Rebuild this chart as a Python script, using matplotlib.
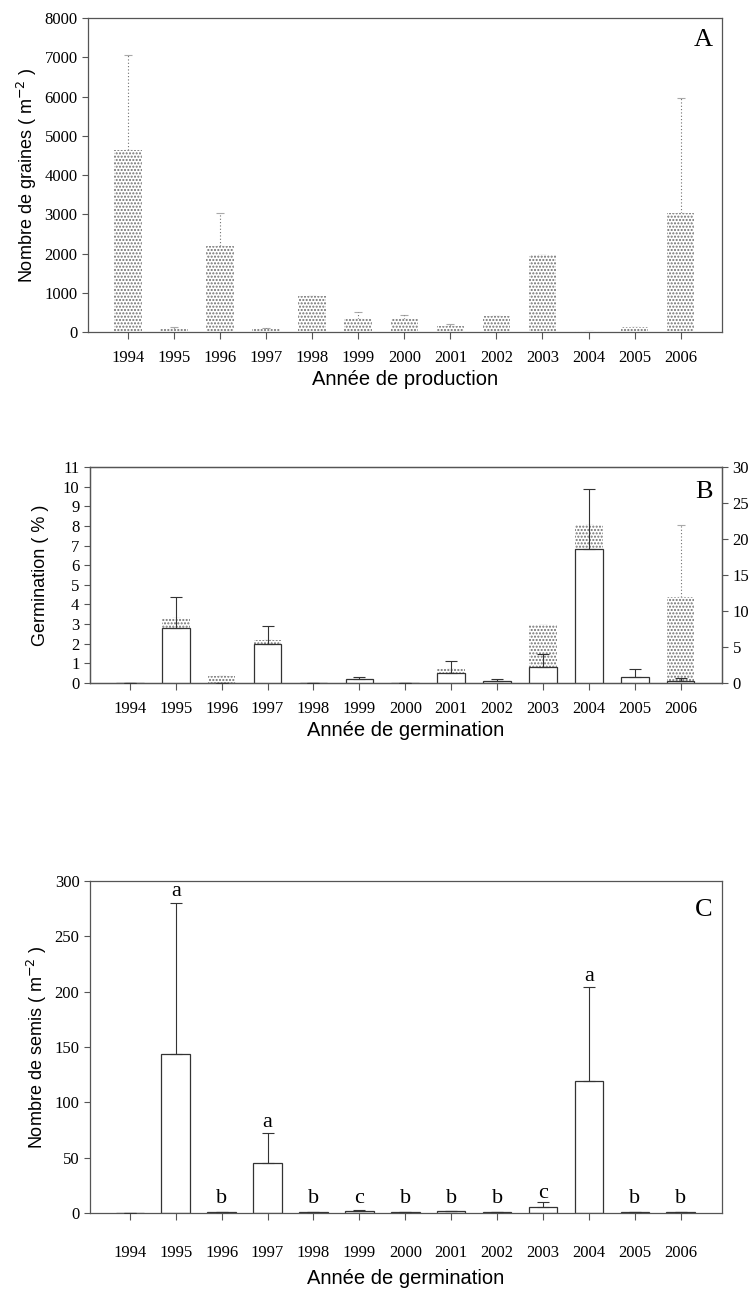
"""
Production de graines, germination et semis (panneaux A, B, C)
"""

import numpy as np
import matplotlib.pyplot as plt

years = [1994, 1995, 1996, 1997, 1998, 1999, 2000, 2001, 2002, 2003, 2004, 2005, 2006]

# A : nombre de graines (m-2), moyenne et erreur (partie haute)
graines = [4650, 80, 2200, 70, 930, 330, 330, 150, 400, 1950, 15, 130, 3020]
graines_err = [2400, 40, 820, 40, 0, 170, 100, 60, 0, 0, 0, 0, 2950]

# B : germination (%) axe gauche (barres blanches) et axe droit (barres pointillées)
germ = [0, 2.8, 0, 2.0, 0, 0.2, 0, 0.5, 0.1, 0.8, 6.8, 0.3, 0.1]
germ_err = [0, 1.6, 0, 0.9, 0, 0.1, 0, 0.6, 0.1, 0.7, 3.1, 0.4, 0.15]
germ2 = [0, 9, 1, 6, 0, 0, 0, 2, 0, 8, 22, 0, 12]
germ2_err = [0, 0, 0, 0, 0, 0, 0, 0, 0, 0, 0, 0, 10]

# C : nombre de semis (m-2) et lettres de groupes
semis = [0, 144, 0.5, 45, 0.5, 2, 0.5, 1.5, 0.5, 5, 119, 0.5, 0.5]
semis_err = [0, 136, 0, 27, 0, 1, 0, 0.5, 0, 5, 85, 0, 0]
lettres = ['', 'a', 'b', 'a', 'b', 'c', 'b', 'b', 'b', 'c', 'a', 'b', 'b']
lettres_y = [0, 286, 9, 78, 9, 9, 9, 9, 9, 14, 210, 9, 9]

SERIF = 'Liberation Serif'
SANS = 'Liberation Sans'
GRIS = '#555555'
POINTS = '#707070'

plt.rcParams['hatch.linewidth'] = 1.0
plt.rcParams['hatch.color'] = POINTS


def style_yticks(ax):
    ax.tick_params(axis='y', direction='out', length=4, color=GRIS)
    for lab in ax.get_yticklabels():
        lab.set_fontfamily(SERIF)
        lab.set_fontsize(12)


def style_axes(ax, xlabel, pad=8, labelpad=3):
    ax.set_xlim(1993.13, 2006.9)
    ax.set_xticks(years)
    ax.set_xticklabels([str(y) for y in years], fontfamily=SERIF, fontsize=12)
    ax.tick_params(axis='x', direction='out', length=5, pad=pad, color=GRIS)
    style_yticks(ax)
    for s in ax.spines.values():
        s.set_color(GRIS)
        s.set_linewidth(0.9)
    ax.set_xlabel(xlabel, fontfamily=SANS, fontsize=14.5, labelpad=labelpad)


def dotted_err(ax, x, y, err, color=POINTS):
    eb = ax.errorbar(x, y, yerr=[np.zeros(len(err)), err], fmt='none',
                     ecolor=color, elinewidth=0.8, capsize=3, capthick=0.8)
    for c in eb[2]:
        c.set_linestyle((0, (1, 2)))
    for c in eb[1]:
        c.set_alpha(0.6)
    return eb


def main():
    fig = plt.figure(figsize=(7.49, 12.95), dpi=100)

    x = np.array(years)
    w = 0.6

    # ---------- A ----------
    axA = fig.add_axes([0.1175, 0.7436, 0.8465, 0.2425])
    dotted_err(axA, x, graines, graines_err)
    axA.bar(x, graines, width=w, color='white', hatch='.....',
            edgecolor=POINTS, linewidth=0, zorder=2)
    axA.set_ylim(0, 8000)
    axA.set_yticks(range(0, 8001, 1000))
    style_axes(axA, 'Année de production')
    axA.set_ylabel('Nombre de graines ( m$^{-2}$ )', fontfamily=SANS, fontsize=13)
    axA.text(0.985, 0.965, 'A', transform=axA.transAxes, ha='right', va='top',
             fontfamily=SERIF, fontsize=19)

    # ---------- B ----------
    axB = fig.add_axes([0.12, 0.4726, 0.844, 0.1668])
    axB2 = axB.twinx()
    dotted_err(axB2, x, germ2, germ2_err)
    axB2.bar(x, germ2, width=w, color='white', hatch='.....',
             edgecolor=POINTS, linewidth=0, zorder=2)
    axB2.set_ylim(0, 30)
    axB2.set_yticks(range(0, 31, 5))
    style_yticks(axB2)

    axB.set_zorder(axB2.get_zorder() + 1)
    axB.patch.set_visible(False)
    axB.bar(x, germ, width=w, color='white', edgecolor='#333333',
            linewidth=0.9, zorder=2)
    axB.errorbar(x, germ, yerr=[np.zeros(len(germ_err)), germ_err], fmt='none',
                 ecolor='#333333', elinewidth=0.8, capsize=4, capthick=0.8, zorder=3)
    axB.set_ylim(0, 11)
    axB.set_yticks(range(0, 12))
    style_axes(axB, 'Année de germination')
    axB.set_ylabel('Germination ( % )', fontfamily=SANS, fontsize=13, labelpad=10)
    axB.text(0.985, 0.935, 'B', transform=axB.transAxes, ha='right', va='top',
             fontfamily=SERIF, fontsize=19)
    for s in axB2.spines.values():
        s.set_color(GRIS)
        s.set_linewidth(0.9)

    # ---------- C ----------
    axC = fig.add_axes([0.12, 0.0633, 0.844, 0.2564])
    axC.bar(x, semis, width=0.62, color='white', edgecolor='#333333',
            linewidth=0.9, zorder=2)
    axC.errorbar(x, semis, yerr=[np.zeros(len(semis_err)), semis_err], fmt='none',
                 ecolor='#333333', elinewidth=0.8, capsize=4, capthick=0.8, zorder=3)
    for xi, lt, ly in zip(x, lettres, lettres_y):
        if lt:
            axC.text(xi, ly, lt, ha='center', va='baseline', fontfamily=SERIF, fontsize=16)
    axC.set_ylim(0, 300)
    axC.set_yticks(range(0, 301, 50))
    style_axes(axC, 'Année de germination', pad=18, labelpad=6)
    axC.set_ylabel('Nombre de semis ( m$^{-2}$ )', fontfamily=SANS, fontsize=13)
    axC.text(0.985, 0.945, 'C', transform=axC.transAxes, ha='right', va='top',
             fontfamily=SERIF, fontsize=19)

    fig.savefig('out.png', dpi=100)
    plt.close(fig)


if __name__ == "__main__":
    main()
